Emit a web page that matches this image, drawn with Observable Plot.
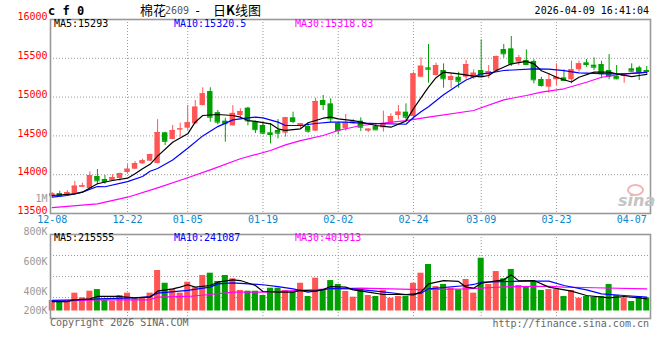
<!DOCTYPE html>
<html><head><meta charset="utf-8">
<script src="https://cdn.jsdelivr.net/npm/d3@7"></script>
<script src="https://cdn.jsdelivr.net/npm/@observablehq/plot@0.6"></script>
<style>
body{margin:0;background:#fff;}
#wrap{position:relative;width:660px;height:360px;background:#fff;overflow:hidden;font-family:"DejaVu Sans Mono",monospace;font-size:10px;}
.t{position:absolute;white-space:pre;line-height:1;}
#price,#vol{position:absolute;left:0;}
#price{top:0}
#vol{top:190px}
</style></head><body>
<div id="wrap">
 <div id="price"></div>
 <div id="vol"></div>
 <div class="t" style="left:48px;top:5px;font-size:12px;font-weight:bold;color:#000">c f 0</div>
 <div class="t" style="left:140px;top:3px;font-size:13px;font-family:'Noto Sans CJK SC';color:#000">棉花</div>
 <div class="t" style="left:165px;top:6px;font-size:10px;color:#555">2609</div>
 <div class="t" style="left:194px;top:5px;font-size:12px;color:#000">-</div>
 <div class="t" style="left:213px;top:3px;font-size:13px;font-family:'Noto Sans CJK SC';color:#000">日<b>K</b>线图</div>
 <div class="t" style="right:11px;top:6px;color:#000">2026-04-09 16:41:04</div>
 <div class="t" style="left:54px;top:18.5px;color:#000">MA5:15293</div>
 <div class="t" style="left:174px;top:18.5px;color:#0000ff">MA10:15320.5</div>
 <div class="t" style="left:295px;top:18.5px;color:#ff00ff">MA30:15318.83</div>
 <div class="t" style="left:54px;top:233px;color:#000">MA5:215555</div>
 <div class="t" style="left:174px;top:233px;color:#0000ff">MA10:241087</div>
 <div class="t" style="left:295px;top:233px;color:#ff00ff">MA30:401913</div>
 <div class="t" style="left:50px;top:318px;color:#666">Copyright 2026 SINA.COM</div>
 <div class="t" style="right:11px;top:319px;color:#666">http://finance.sina.com.cn</div>
 <div class="t" style="left:627px;top:184px;width:13px;height:8px;border:2px solid #f2b5b5;border-radius:50%"></div>
 <div class="t" style="left:618px;top:193px;font-size:16px;font-weight:bold;font-style:italic;font-family:'DejaVu Sans';color:#c4c4c4">sina</div>
</div>
<script>
const tickIdx = [0,10,18,28,38,48,57,67,77];
const tickLabels = ["12-08","12-22","01-05","01-19","02-02","02-24","03-09","03-23","04-07"];
const gridIdx = [10,18,28,38,48,57,67];
const priceTicks = [13500,14000,14500,15000,15500,16000];
const priceGrid = [14000,14500,15000,15500];
const volTicks = [200000,400000,600000,800000];
const volTopTick = [1000000];

const open = [13715,13757,13745,13749,13839,13822,13977,13938,13921,13951,
14028,14071,14140,14174,14144,14540,14454,14578,14600,14656,
14892,15072,14800,14690,14630,14763,14858,14680,14634,14540,
14570,14535,14733,14625,14621,14561,14956,14913,14664,14591,
14656,14690,14561,14621,14604,14664,14763,14806,14750,15256,
15377,15278,15343,15214,15256,15256,15244,15343,15287,15334,
15613,15622,15450,15472,15459,15227,15128,15223,15248,15223,
15352,15442,15411,15420,15343,15265,15265,15365,15377,15343];
const close = [13755,13728,13770,13852,13857,13990,13921,13912,13964,14015,
14071,14144,14179,14260,14543,14430,14570,14591,14669,14870,
15042,14741,14677,14656,14790,14814,14694,14580,14535,14518,
14535,14733,14686,14656,14561,14943,14905,14720,14570,14664,
14686,14612,14587,14578,14656,14750,14806,14741,15300,15398,
15359,15407,15236,15265,15205,15420,15308,15278,15330,15523,
15558,15429,15506,15420,15223,15150,15223,15256,15214,15352,
15429,15420,15385,15300,15265,15236,15300,15334,15313,15330];
const high = [13770,13787,13796,13912,13890,14037,14067,13990,13999,14020,
14127,14170,14200,14265,14709,14548,14634,14664,14892,14956,
15120,15120,14827,14728,14890,14849,14870,14690,14677,14656,
14711,14740,14806,14660,14656,14986,15021,14978,14670,14776,
14711,14733,14590,14656,14819,14785,14892,14913,15321,15506,
15678,15437,15428,15300,15321,15472,15352,15738,15407,15530,
15678,15781,15536,15609,15481,15256,15300,15429,15352,15463,
15463,15484,15506,15463,15549,15407,15305,15429,15398,15394];
const low = [13700,13720,13740,13745,13835,13815,13870,13877,13915,13916,
14006,14065,14135,14170,14140,14376,14450,14483,14570,14650,
14885,14677,14643,14419,14625,14720,14630,14530,14514,14398,
14462,14483,14656,14591,14535,14555,14827,14669,14514,14561,
14650,14557,14544,14575,14548,14660,14707,14698,14733,15248,
15179,15270,15115,15107,15115,15230,15230,15256,15236,15330,
15502,15394,15407,15407,15171,15128,15050,15150,15205,15171,
15321,15385,15343,15236,15223,15223,15179,15321,15214,15278];
const volume = [308000,297000,308000,383000,335000,402000,413000,308000,301000,359000,
383000,325000,335000,383000,540000,455000,413000,383000,462000,425000,
507000,522000,467000,507000,485000,407000,402000,402000,359000,422000,
422000,407000,393000,455000,349000,489000,407000,473000,447000,400000,
342000,418000,359000,349000,407000,331000,349000,349000,455000,522000,
580000,433000,447000,422000,411000,480000,383000,622000,447000,533000,
485000,547000,440000,429000,467000,407000,413000,413000,349000,407000,
331000,349000,342000,349000,447000,359000,331000,297000,342000,335000];

const ma5Idx = [0,3,4,6,8,10,11,12,13,14,16,18,19,20,22,24,25,26,27,29,30,31,33,34,36,37,38,40,41,43,45,47,48,49,50,51,52,54,56,57,58,59,61,63,64,65,66,67,68,69,70,72,74,75,77,78,79];
const ma5Val = [13732,13754,13775,13883,13925,13955,14011,14076,14134,14239,14419,14527,14677,14763,14776,14763,14741,14698,14686,14656,14591,14570,14591,14669,14728,14741,14720,14698,14677,14634,14612,14690,14850,14990,15128,15250,15321,15300,15270,15260,15278,15343,15429,15460,15429,15340,15300,15256,15223,15195,15256,15321,15321,15300,15265,15278,15293];
const ma10Idx = [0,2,4,6,7,10,12,13,14,16,18,20,22,24,26,27,28,30,31,33,35,37,39,41,47,48,49,50,52,54,55,57,58,60,64,66,68,70,72,74,76,78,79];
const ma10Val = [13710,13732,13775,13848,13845,13910,13977,14045,14080,14190,14340,14500,14620,14707,14733,14741,14733,14677,14634,14634,14660,14677,14677,14664,14650,14738,14811,14875,15030,15160,15220,15300,15310,15343,15365,15360,15340,15313,15305,15300,15300,15313,15320];
const ma30Idx = [0,6,10,14,18,21,25,29,31,33,36,38,41,47,50,56,57,60,63,65,68,71,73,76,79];
const ma30Val = [13575,13625,13710,13831,13960,14063,14205,14312,14385,14440,14505,14570,14634,14698,14741,14827,14862,14965,15021,15063,15107,15192,15256,15300,15319];

const vma5Idx = [0,2,3,5,6,9,11,13,14,16,17,18,19,21,22,24,25,27,28,30,32,33,35,36,37,39,40,42,44,46,48,49,50,52,54,55,56,57,59,60,61,62,64,66,69,71,74,76,78,79];
const vma5Val = [297000,297000,315000,325000,349000,349000,335000,342000,402000,418000,429000,445000,429000,440000,462000,477000,473000,440000,400000,393000,393000,407000,402000,413000,433000,429000,411000,393000,369000,369000,366000,393000,451000,473000,467000,429000,422000,455000,471000,478000,511000,471000,473000,429000,402000,359000,335000,349000,335000,325000];
const vma10Idx = [0,5,6,11,13,14,18,21,22,24,28,30,32,34,37,40,43,47,49,50,55,56,57,61,63,66,68,71,73,76,79];
const vma10Val = [308000,318000,325000,335000,349000,383000,407000,429000,451000,458000,445000,433000,418000,393000,420000,418000,402000,369000,383000,418000,440000,447000,462000,467000,469000,469000,440000,411000,376000,359000,342000];
const vma30Idx = [0,6,13,14,18,21,24,28,33,37,41,45,49,55,58,61,66,68,72,79];
const vma30Val = [301000,315000,315000,342000,349000,369000,393000,393000,407000,418000,422000,418000,413000,418000,425000,433000,435000,429000,425000,418000];

const N = close.length;
const idx = d3.range(N);
const RED = "#ff5555", GREEN = "#00a000";
const col = i => close[i] >= open[i] ? RED : GREEN;
const mono = "'DejaVu Sans Mono', monospace";
const GRID = {stroke: "#9a9a9a", strokeDasharray: "1,2"};
const xOpt = {type: "linear", domain: [-0.5, N - 0.5], range: [48, 650], axis: null};

const priceChart = Plot.plot({
  width: 660, height: 230,
  marginTop: 19, marginBottom: 17, marginLeft: 50, marginRight: 10,
  style: {background: "transparent", fontFamily: mono, fontSize: "10px", overflow: "visible"},
  x: xOpt,
  y: {domain: [13500, 16000], axis: null},
  marks: [
    Plot.ruleY(priceGrid, {y: d => d, ...GRID}),
    Plot.ruleX(gridIdx, {x: d => d, ...GRID}),
    Plot.ruleX(idx, {x: i => i, y1: i => low[i], y2: i => high[i], stroke: col}),
    Plot.rect(idx, {x1: i => i - 0.36, x2: i => i + 0.36, y1: i => open[i], y2: i => close[i], fill: col}),
    Plot.ruleY(idx, {x1: i => i - 0.36, x2: i => i + 0.36, y: i => close[i], stroke: col}),
    Plot.line(ma30Idx, {x: d => d, y: (d, j) => ma30Val[j], stroke: "#ff00ff", strokeWidth: 1.2}),
    Plot.line(ma10Idx, {x: d => d, y: (d, j) => ma10Val[j], stroke: "#0000ff", strokeWidth: 1.2}),
    Plot.line(ma5Idx, {x: d => d, y: (d, j) => ma5Val[j], stroke: "#000", strokeWidth: 1.2}),
    Plot.frame({stroke: "#999", strokeWidth: 1.6}),
    Plot.text(priceTicks, {frameAnchor: "left", y: d => d, text: d => String(d), textAnchor: "end", dx: -3, dy: -2.5, fill: "#ff0000", fontSize: 10, fontFamily: mono}),
    Plot.text(tickIdx, {frameAnchor: "bottom", x: d => d, text: (d, j) => tickLabels[j], dy: 9, fill: "#0a86cc", fontSize: 10, fontFamily: mono})
  ]
});
document.getElementById("price").appendChild(priceChart);

const volGrid = (index, scales, values, dims) => {
  const g = d3.create("svg:g");
  const top = dims.marginTop, bottom = dims.height - dims.marginBottom;
  for (const f of [0.25, 0.5, 0.75]) {
    const y = Math.round(top + (bottom - top) * f) + 0.5;
    g.append("line").attr("x1", dims.marginLeft).attr("x2", dims.width - dims.marginRight)
      .attr("y1", y).attr("y2", y).attr("stroke", "#9a9a9a").attr("stroke-dasharray", "1,2");
  }
  return g.node();
};
const fmtVol = d => d >= 1000000 ? (d / 1000000) + "M" : (d / 1000) + "K";

const volChart = Plot.plot({
  width: 660, height: 170,
  marginTop: 44, marginBottom: 42, marginLeft: 50, marginRight: 10,
  style: {background: "transparent", fontFamily: mono, fontSize: "10px", overflow: "visible"},
  x: xOpt,
  y: {type: "linear", domain: [200000, 400000, 1000000], range: [120.5, 101, 11], axis: null},
  marks: [
    volGrid,
    Plot.ruleX(gridIdx, {x: d => d, ...GRID}),
    Plot.rect(idx, {x1: i => i - 0.4, x2: i => i + 0.4, y1: () => 200000, y2: i => volume[i], fill: col}),
    Plot.line(vma30Idx, {x: d => d, y: (d, j) => vma30Val[j], stroke: "#ff00ff", strokeWidth: 1.2}),
    Plot.line(vma10Idx, {x: d => d, y: (d, j) => vma10Val[j], stroke: "#0000ff", strokeWidth: 1.2}),
    Plot.line(vma5Idx, {x: d => d, y: (d, j) => vma5Val[j], stroke: "#000", strokeWidth: 1.2}),
    Plot.frame({stroke: "#999", strokeWidth: 1.6}),
    Plot.text(volTicks, {frameAnchor: "left", y: d => d, text: fmtVol, textAnchor: "end", dx: -3, fill: "#999", fontSize: 10, fontFamily: mono}),
    Plot.text(volTopTick, {frameAnchor: "left", y: d => d, text: fmtVol, textAnchor: "end", dx: -3, dy: -3, fill: "#999", fontSize: 10, fontFamily: mono})
  ]
});
document.getElementById("vol").appendChild(volChart);
</script>
</body></html>
